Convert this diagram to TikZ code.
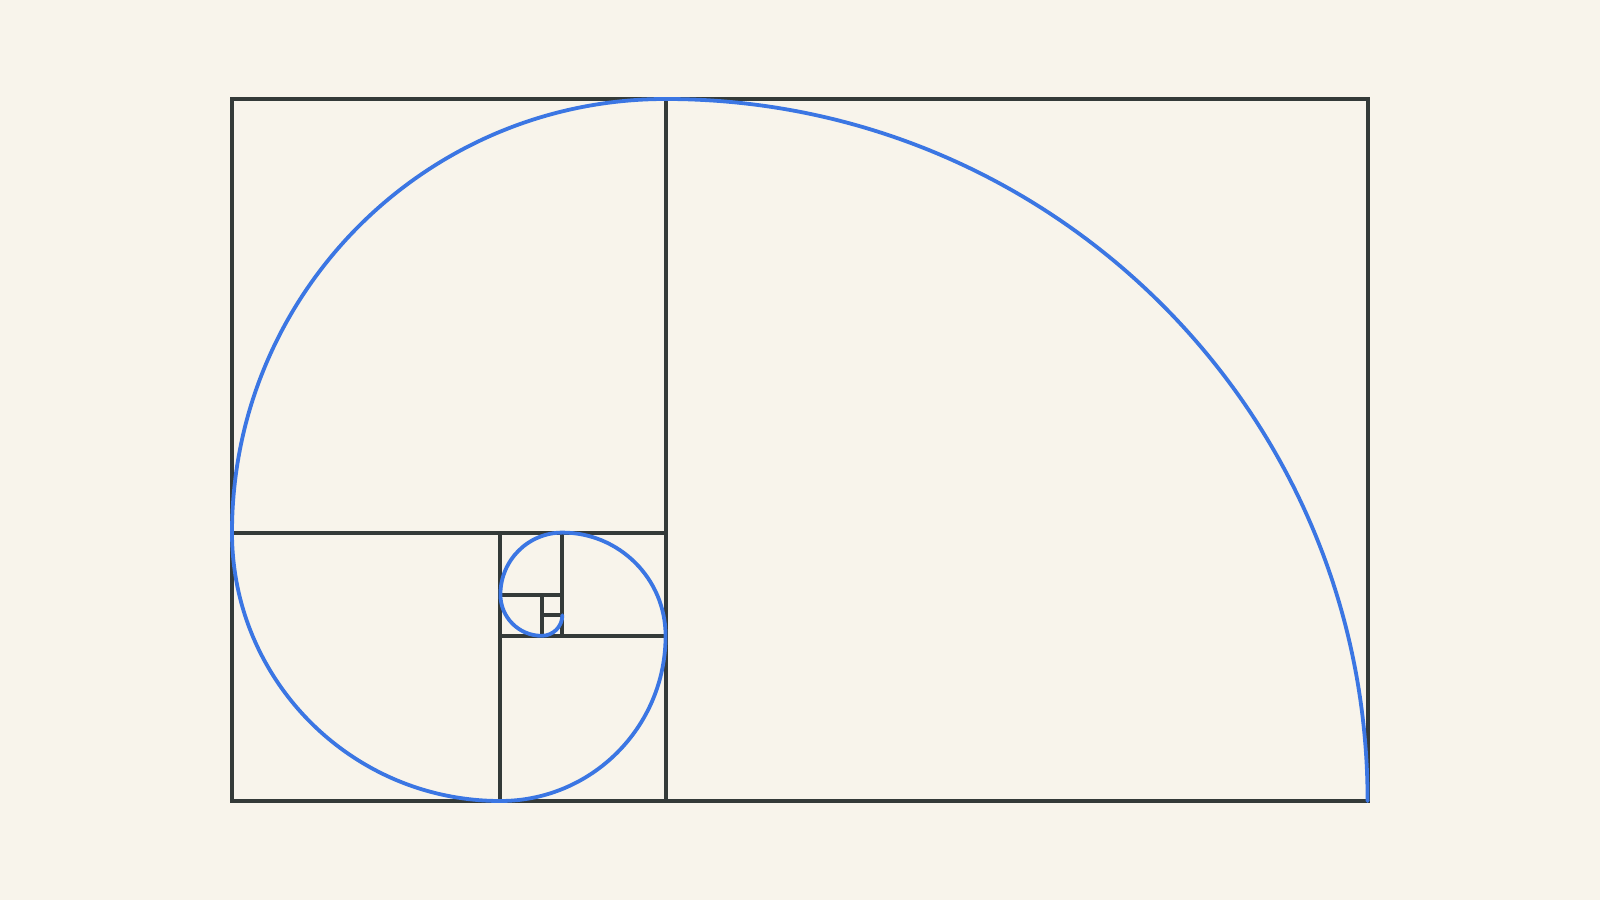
\documentclass[tikz,border=0pt]{standalone}
\definecolor{bgc}{HTML}{F8F4EB}
\definecolor{gridc}{HTML}{343A38}
\definecolor{spiralc}{HTML}{3B76E3}
\begin{document}
\begin{tikzpicture}[x=20.647pt,y=20.647pt,
  gridline/.style={draw=gridc,line width=4pt},
  spiral/.style={draw=spiralc,line width=3.8pt,line cap=round}]
\fill[bgc] (-232pt,-99pt) rectangle (1368pt,801pt);
\useasboundingbox (-232pt,-99pt) rectangle (1368pt,801pt);
% squares
\draw[gridline] (0,0) rectangle (55,34);
\draw[gridline] (21,0) -- (21,34);
\draw[gridline] (0,13) -- (21,13);
\draw[gridline] (13,0) -- (13,13);
\draw[gridline] (13,8) -- (21,8);
\draw[gridline] (16,8) -- (16,13);
\draw[gridline] (13,10) -- (16,10);
\draw[gridline] (15,8) -- (15,10);
\draw[gridline] (15,9) -- (16,9);
% spiral
\draw[spiral] (55,0) arc[start angle=0,end angle=90,radius=34]
  arc[start angle=90,end angle=180,radius=21]
  arc[start angle=180,end angle=270,radius=13]
  arc[start angle=270,end angle=360,radius=8]
  arc[start angle=0,end angle=90,radius=5]
  arc[start angle=90,end angle=180,radius=3]
  arc[start angle=180,end angle=270,radius=2]
  arc[start angle=270,end angle=360,radius=1];
\end{tikzpicture}
\end{document}
